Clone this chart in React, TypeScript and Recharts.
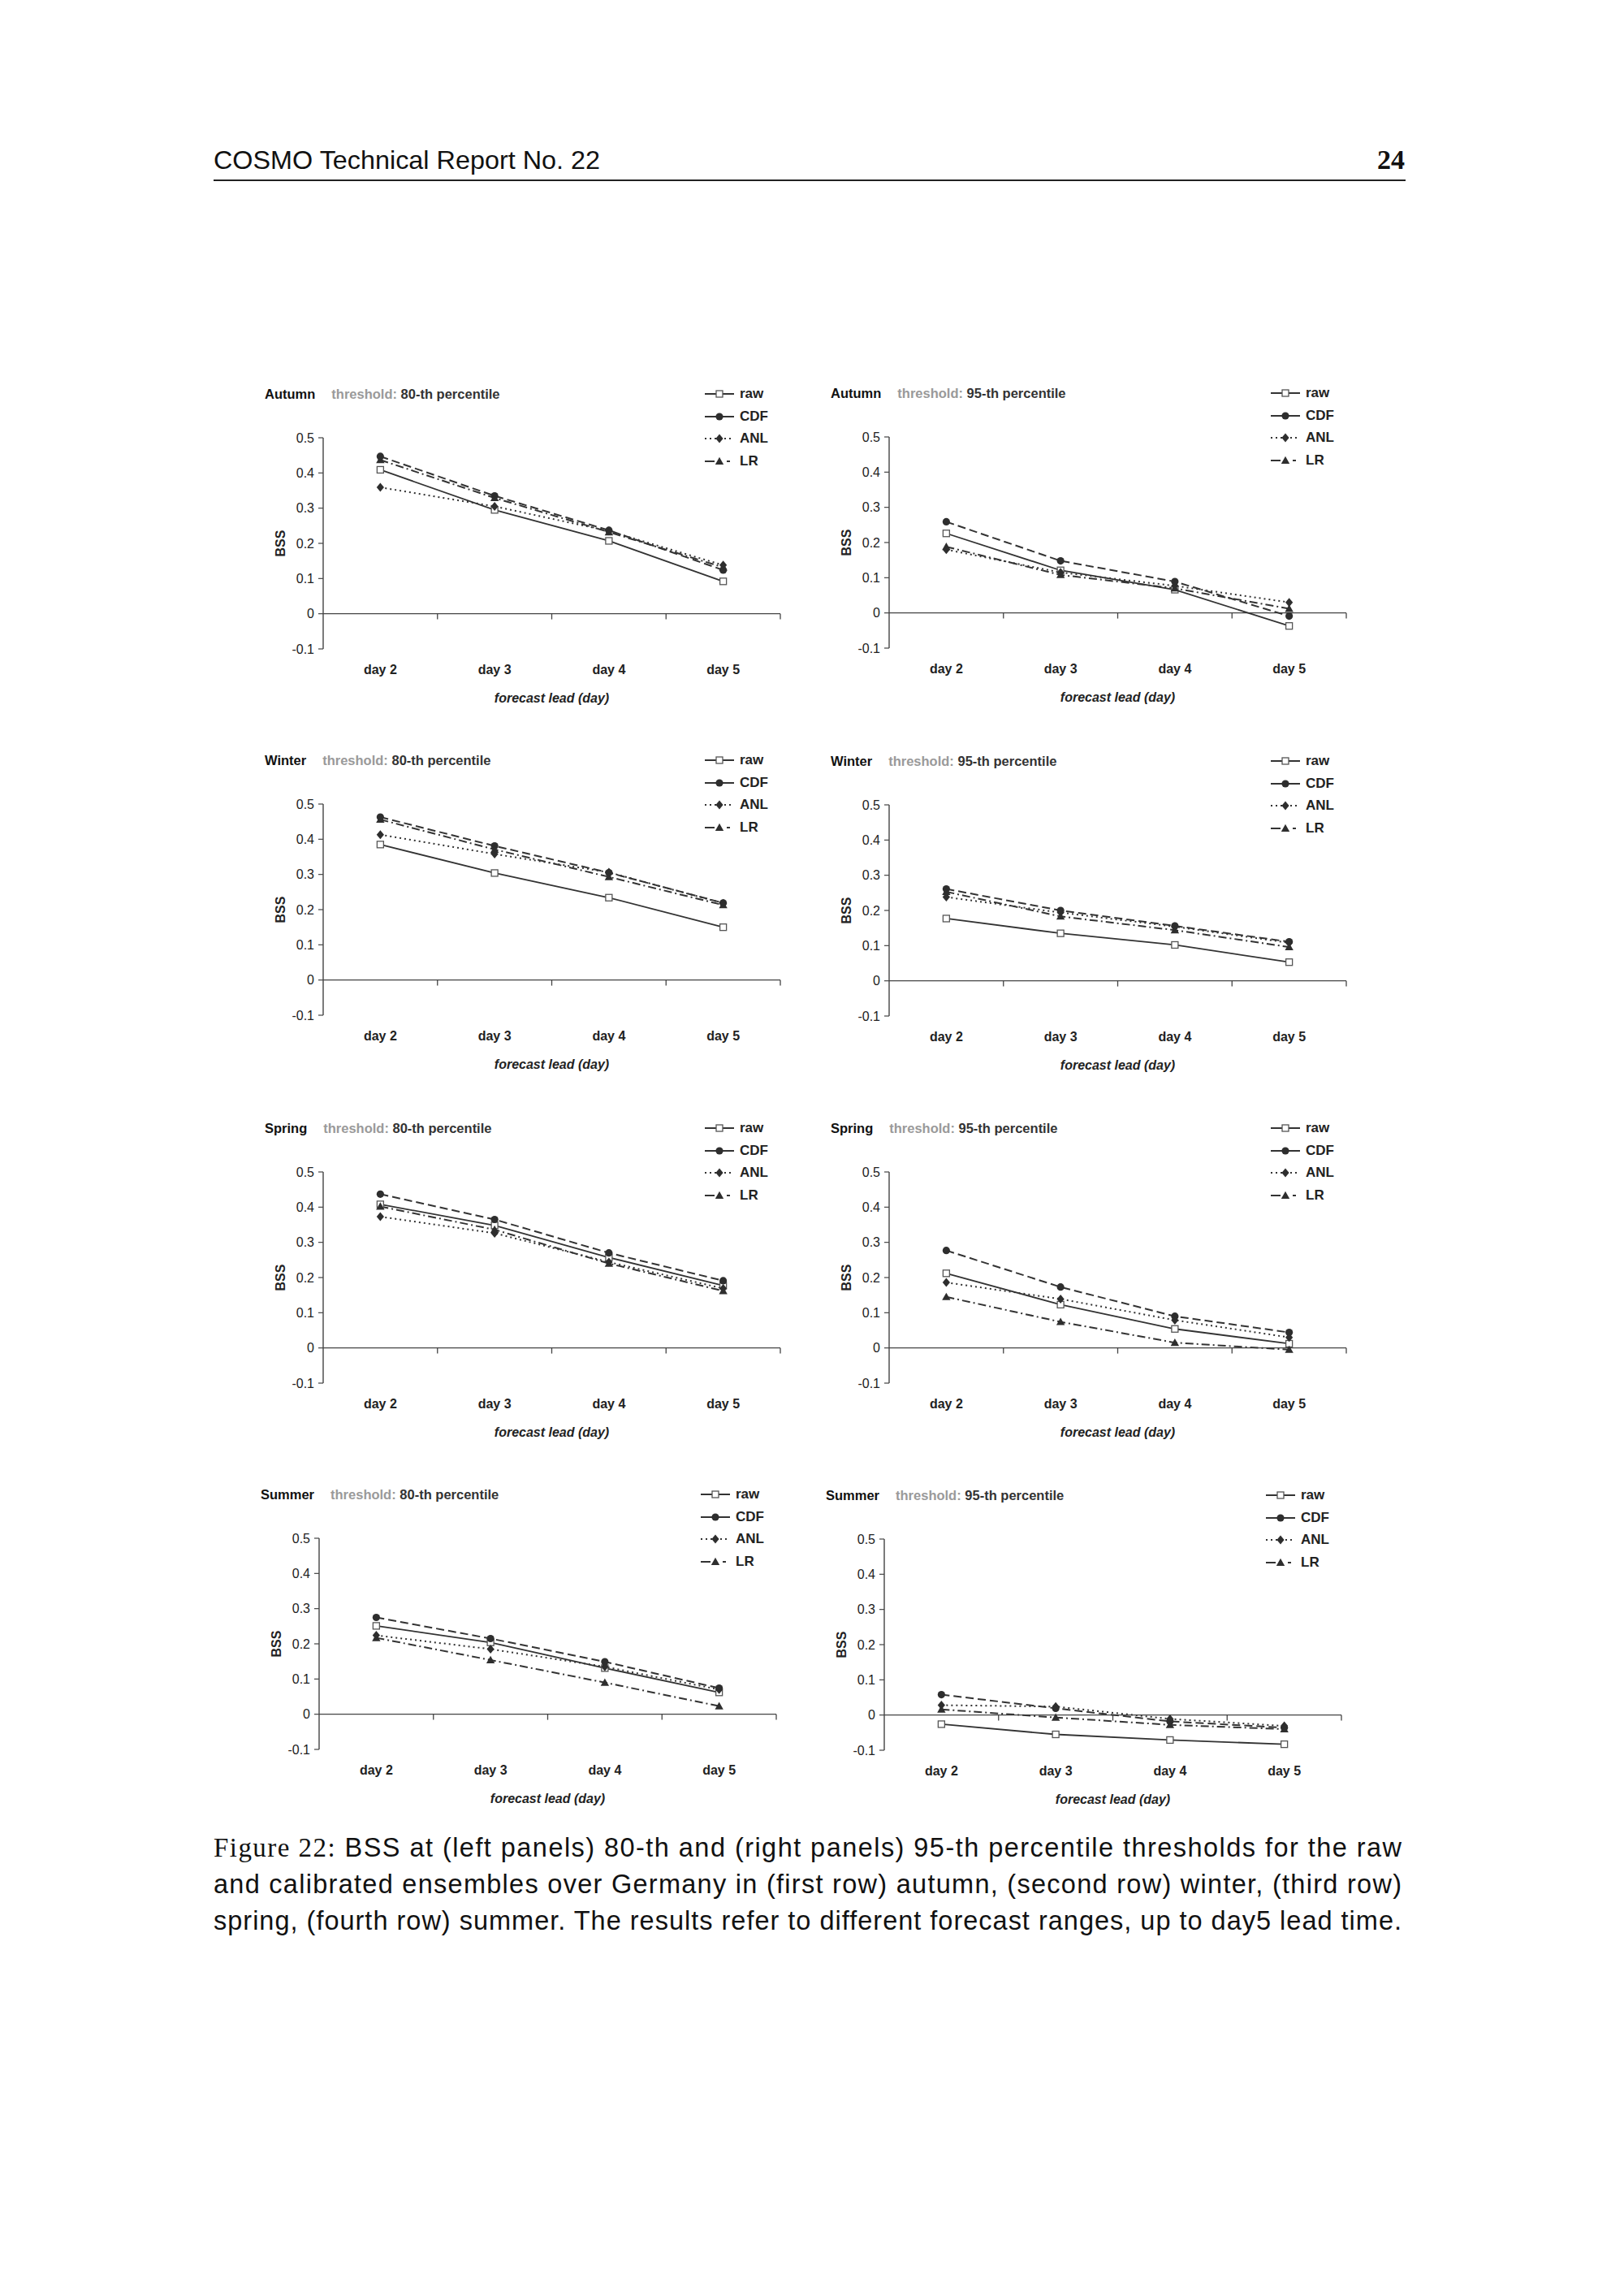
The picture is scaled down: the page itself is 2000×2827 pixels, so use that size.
import React from 'react';
import { LineChart, Line, XAxis, YAxis, ReferenceLine } from 'recharts';

// ---------- categories / ticks ----------
const leadDays = [2, 3, 4, 5];
const dayLabels = ['day 2', 'day 3', 'day 4', 'day 5'];
const bssTicks = [-0.1, 0, 0.1, 0.2, 0.3, 0.4, 0.5];
const bssTickLabels = ['-0.1', '0', '0.1', '0.2', '0.3', '0.4', '0.5'];
const seriesNames = ['raw', 'CDF', 'ANL', 'LR'];

// ---------- data (BSS values) ----------
const autumn80Raw = [0.409, 0.295, 0.207, 0.092];
const autumn80Cdf = [0.447, 0.335, 0.237, 0.124];
const autumn80Anl = [0.359, 0.305, 0.235, 0.138];
const autumn80Lr = [0.437, 0.329, 0.232, 0.132];

const autumn95Raw = [0.226, 0.121, 0.066, -0.037];
const autumn95Cdf = [0.259, 0.148, 0.089, -0.009];
const autumn95Anl = [0.18, 0.115, 0.077, 0.03];
const autumn95Lr = [0.188, 0.108, 0.07, 0.012];

const winter80Raw = [0.385, 0.304, 0.234, 0.15];
const winter80Cdf = [0.463, 0.381, 0.305, 0.219];
const winter80Anl = [0.413, 0.358, 0.306, 0.218];
const winter80Lr = [0.456, 0.371, 0.293, 0.213];

const winter95Raw = [0.177, 0.135, 0.102, 0.053];
const winter95Cdf = [0.261, 0.2, 0.156, 0.111];
const winter95Anl = [0.238, 0.194, 0.154, 0.108];
const winter95Lr = [0.253, 0.183, 0.144, 0.096];

const spring80Raw = [0.408, 0.348, 0.257, 0.177];
const spring80Cdf = [0.437, 0.365, 0.27, 0.191];
const spring80Anl = [0.373, 0.326, 0.244, 0.169];
const spring80Lr = [0.402, 0.336, 0.24, 0.162];

const spring95Raw = [0.212, 0.123, 0.054, 0.012];
const spring95Cdf = [0.277, 0.173, 0.09, 0.044];
const spring95Anl = [0.186, 0.139, 0.079, 0.03];
const spring95Lr = [0.145, 0.074, 0.015, -0.005];

const summer80Raw = [0.251, 0.204, 0.131, 0.062];
const summer80Cdf = [0.275, 0.215, 0.149, 0.074];
const summer80Anl = [0.224, 0.185, 0.135, 0.07];
const summer80Lr = [0.217, 0.154, 0.09, 0.023];

const summer95Raw = [-0.026, -0.055, -0.071, -0.083];
const summer95Cdf = [0.058, 0.019, -0.018, -0.036];
const summer95Anl = [0.028, 0.024, -0.011, -0.031];
const summer95Lr = [0.016, -0.007, -0.028, -0.04];

// ---------- panel definitions ----------
const panels = [
  { season: 'Autumn', pct: '80-th percentile', raw: autumn80Raw, cdf: autumn80Cdf, anl: autumn80Anl, lr: autumn80Lr, px: 398, py: 539 },
  { season: 'Autumn', pct: '95-th percentile', raw: autumn95Raw, cdf: autumn95Cdf, anl: autumn95Anl, lr: autumn95Lr, px: 1095, py: 538 },
  { season: 'Winter', pct: '80-th percentile', raw: winter80Raw, cdf: winter80Cdf, anl: winter80Anl, lr: winter80Lr, px: 398, py: 990 },
  { season: 'Winter', pct: '95-th percentile', raw: winter95Raw, cdf: winter95Cdf, anl: winter95Anl, lr: winter95Lr, px: 1095, py: 991 },
  { season: 'Spring', pct: '80-th percentile', raw: spring80Raw, cdf: spring80Cdf, anl: spring80Anl, lr: spring80Lr, px: 398, py: 1443 },
  { season: 'Spring', pct: '95-th percentile', raw: spring95Raw, cdf: spring95Cdf, anl: spring95Anl, lr: spring95Lr, px: 1095, py: 1443 },
  { season: 'Summer', pct: '80-th percentile', raw: summer80Raw, cdf: summer80Cdf, anl: summer80Anl, lr: summer80Lr, px: 393, py: 1894 },
  { season: 'Summer', pct: '95-th percentile', raw: summer95Raw, cdf: summer95Cdf, anl: summer95Anl, lr: summer95Lr, px: 1089, py: 1895 },
];

const FONT = '"Liberation Sans", Arial, Helvetica, sans-serif';
const SERIF = '"Liberation Serif", "DejaVu Serif", serif';
const INK = '#222';

const seriesStyle = [
  { key: 'raw', dash: undefined as string | undefined, legendDash: undefined as string | undefined, width: 1.8, marker: 'square' },
  { key: 'cdf', dash: '10 5', legendDash: '14 8', width: 2, marker: 'circle' },
  { key: 'anl', dash: '2 4', legendDash: '2 4', width: 2, marker: 'diamond' },
  { key: 'lr', dash: '10 4 2 4', legendDash: '12 15 4 10', width: 2, marker: 'triangle' },
];

function MarkerShape({ kind, cx, cy }: { kind: string; cx: number; cy: number }) {
  switch (kind) {
    case 'square':
      return <rect x={cx - 4} y={cy - 4} width={8} height={8} fill="#fff" stroke="#555" strokeWidth={1.3} />;
    case 'circle':
      return <circle cx={cx} cy={cy} r={4.6} fill="#2e2e2e" />;
    case 'diamond':
      return <polygon points={`${cx},${cy - 5.5} ${cx + 4.6},${cy} ${cx},${cy + 5.5} ${cx - 4.6},${cy}`} fill="#2e2e2e" />;
    default:
      return <polygon points={`${cx},${cy - 5.2} ${cx + 5.2},${cy + 4} ${cx - 5.2},${cy + 4}`} fill="#2e2e2e" />;
  }
}

function makeDot(kind: string) {
  return (props: any) => {
    const { cx, cy, index } = props;
    if (cx == null || cy == null) return <g key={`${kind}-${index}`} />;
    return <MarkerShape key={`${kind}-${index}`} kind={kind} cx={cx} cy={cy} />;
  };
}

const Y_W = 106;
const M_TOP = 19;
const PLOT_W = 563;
const PLOT_H = 260;
const X_H = 120;
const M_RIGHT = 19;

function Panel({ cfg }: { cfg: any }) {
  const data = leadDays.map((d, i) => ({ lead: d, raw: cfg.raw[i], cdf: cfg.cdf[i], anl: cfg.anl[i], lr: cfg.lr[i] }));
  const { px, py } = cfg;
  return (
    <>
      <div style={{ position: 'absolute', left: px - Y_W, top: py - M_TOP }}>
        <LineChart
          width={Y_W + PLOT_W + M_RIGHT}
          height={M_TOP + PLOT_H + X_H}
          data={data}
          margin={{ top: M_TOP, right: M_RIGHT, bottom: 0, left: 0 }}
        >
          <XAxis
            dataKey="lead"
            type="number"
            domain={[1.5, 5.5]}
            ticks={leadDays}
            interval={0}
            tickFormatter={(v: number) => dayLabels[leadDays.indexOf(v)]}
            axisLine={false}
            tickLine={false}
            tickMargin={14}
            height={X_H}
            tick={{ fontSize: 16, fontWeight: 'bold', fill: INK, fontFamily: FONT }}
            label={{ value: 'forecast lead (day)', position: 'center', fontSize: 16, fontWeight: 'bold', fontStyle: 'italic', fill: INK, fontFamily: FONT }}
          />
          <YAxis
            type="number"
            domain={[-0.1, 0.5]}
            ticks={bssTicks}
            interval={0}
            tickFormatter={(v: number) => bssTickLabels[bssTicks.findIndex((t) => Math.abs(t - v) < 1e-9)]}
            width={Y_W}
            axisLine={{ stroke: '#444', strokeWidth: 1.4 }}
            tickLine={{ stroke: '#444', strokeWidth: 1.2 }}
            tickSize={6}
            tickMargin={5}
            tick={{ fontSize: 16, fill: INK, fontFamily: FONT }}
            label={{ value: 'BSS', angle: -90, position: 'center', fontSize: 16, fontWeight: 'bold', fill: INK, fontFamily: FONT }}
          />
          <ReferenceLine y={0} stroke="#444" strokeWidth={1.4} ifOverflow="visible" />
          {leadDays.map((d) => (
            <ReferenceLine
              key={`tick-${d}`}
              segment={[{ x: d + 0.5, y: 0 }, { x: d + 0.5, y: -0.016 }]}
              stroke="#444"
              strokeWidth={1.3}
              ifOverflow="visible"
            />
          ))}
          {seriesStyle.map((s) => (
            <Line
              key={s.key}
              type="linear"
              dataKey={s.key}
              stroke="#333"
              strokeWidth={s.width}
              strokeDasharray={s.dash}
              dot={makeDot(s.marker)}
              activeDot={false}
              isAnimationActive={false}
            />
          ))}
        </LineChart>
      </div>
      {/* title */}
      <div
        style={{
          position: 'absolute',
          left: px - 72,
          top: py - 54 - 10,
          height: 20,
          lineHeight: '20px',
          fontFamily: FONT,
          fontWeight: 'bold',
          fontSize: 16.5,
          whiteSpace: 'nowrap',
        }}
      >
        <span style={{ color: '#111' }}>{cfg.season}</span>
        <span style={{ color: '#9a9a9a', marginLeft: 20 }}>threshold:</span>
        <span style={{ color: '#333' }}> {cfg.pct}</span>
      </div>
      {/* legend */}
      {seriesStyle.map((s, i) => (
        <div
          key={`leg-${s.key}`}
          style={{
            position: 'absolute',
            left: px + 470,
            top: py - 54 + i * 27.7 - 10,
            height: 20,
            lineHeight: '20px',
            whiteSpace: 'nowrap',
            fontFamily: FONT,
            fontWeight: 'bold',
            fontSize: 17,
            color: '#222',
            display: 'flex',
            alignItems: 'center',
          }}
        >
          <svg width={38} height={20} style={{ display: 'block' }}>
            <line x1={0} y1={10} x2={36} y2={10} stroke="#333" strokeWidth={s.width} strokeDasharray={s.legendDash} />
            <MarkerShape kind={s.marker} cx={18} cy={10} />
          </svg>
          <span style={{ marginLeft: 5 }}>{seriesNames[i]}</span>
        </div>
      ))}
    </>
  );
}

const captionLines = [
  { lead: 'Figure 22:', rest: ' BSS at (left panels) 80-th and (right panels) 95-th percentile thresholds for the raw' },
  { lead: '', rest: 'and calibrated ensembles over Germany in (first row) autumn, (second row) winter, (third row)' },
  { lead: '', rest: 'spring, (fourth row) summer.  The results refer to different forecast ranges, up to day5 lead time.' },
];

export default function App() {
  return (
    <div style={{ position: 'absolute', left: 0, top: 0, width: 2000, height: 2827, background: '#fff', overflow: 'hidden' }}>
      <svg width={2000} height={2827} style={{ position: 'absolute', left: 0, top: 0 }}>
        <text x={263} y={208} fontFamily={FONT} fontSize={32} fill="#111" textLength={476} lengthAdjust="spacingAndGlyphs">
          COSMO Technical Report No. 22
        </text>
        <text x={1730} y={208} fontFamily={SERIF} fontWeight="bold" fontSize={34} fill="#111" textAnchor="end">
          24
        </text>
        <line x1={263} y1={222} x2={1731} y2={222} stroke="#222" strokeWidth={2} />
        {captionLines.map((ln, i) => (
          <text key={i} x={263} y={2286 + i * 45} fontFamily={FONT} fontSize={32.5} fill="#111" textLength={1463} lengthAdjust="spacing">
            {ln.lead ? (
              <tspan fontFamily={SERIF} fontSize={33}>{ln.lead}</tspan>
            ) : null}
            <tspan>{ln.rest}</tspan>
          </text>
        ))}
      </svg>
      {panels.map((p, i) => (
        <Panel key={i} cfg={p} />
      ))}
    </div>
  );
}
